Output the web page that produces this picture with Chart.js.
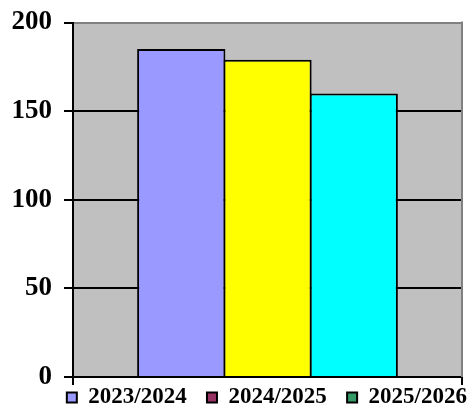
<!DOCTYPE html>
<html>
<head>
<meta charset="utf-8">
<script src="https://cdn.jsdelivr.net/npm/chart.js@4/dist/chart.umd.min.js"></script>
<style>
  html, body { margin: 0; padding: 0; background: #fff; }
  #wrap { width: 470px; height: 406px; }
</style>
</head>
<body>
<div id="wrap"><canvas id="chart" width="470" height="406"></canvas></div>
<script>
// Datos
const PERIODOS = ['2023/2024', '2024/2025', '2025/2026'];
const VALORES = [185, 179, 160];
const TICKS_Y = [0, 50, 100, 150, 200];

// Colores: barras y cuadros de la leyenda (no coinciden en el original)
const COLOR_BARRAS = ['#9999FF', '#FFFF00', '#00FFFF'];
const COLOR_LEYENDA = ['#9999FF', '#993366', '#339966'];
const FUENTE = '"Liberation Serif", "Times New Roman", serif';

// Fondo gris del área de trazado + borde gris derecho
const fondoPlot = {
    id: 'fondoPlot',
    beforeDraw(chart) {
        const { ctx, chartArea: a } = chart;
        ctx.save();
        ctx.fillStyle = '#fff';
        ctx.fillRect(0, 0, chart.width, chart.height);
        ctx.fillStyle = '#C0C0C0';
        ctx.fillRect(a.left, a.top, a.right - a.left, a.bottom - a.top);
        ctx.restore();
    },
    afterDatasetsDraw(chart) {
        const { ctx, chartArea: a } = chart;
        ctx.save();
        ctx.strokeStyle = '#808080';
        ctx.lineWidth = 2;
        ctx.beginPath();
        ctx.moveTo(a.right, a.top - 1);
        ctx.lineTo(a.right, a.bottom);
        ctx.stroke();
        ctx.restore();
    }
};

// barPercentage un poco mayor que 1: las barras se solapan y comparten el borde
const datasets = PERIODOS.map((p, i) => ({
    label: p,
    data: [VALORES[i]],
    backgroundColor: COLOR_BARRAS[i],
    borderColor: '#000',
    borderWidth: 2,
    barPercentage: 1.024,
    categoryPercentage: 0.665
}));

new Chart(document.getElementById('chart'), {
    type: 'bar',
    data: { labels: [''], datasets },
    plugins: [fondoPlot],
    options: {
        responsive: false,
        animation: false,
        layout: { padding: { top: 10, right: 0, left: 0, bottom: 0 } },
        plugins: {
            tooltip: { enabled: false },
            legend: {
                position: 'bottom',
                align: 'end',
                maxHeight: 23,
                labels: {
                    padding: 3,
                    boxWidth: 10,
                    boxHeight: 10,
                    color: '#000',
                    font: { family: FUENTE, size: 23, weight: 'bold' },
                    // espacios finales para separar los elementos de la leyenda
                    generateLabels: () => PERIODOS.map((p, i) => ({
                        text: i < PERIODOS.length - 1 ? p + '   ' : p,
                        fillStyle: COLOR_LEYENDA[i],
                        strokeStyle: '#000',
                        lineWidth: 2,
                        fontColor: '#000',
                        datasetIndex: i
                    }))
                }
            }
        },
        scales: {
            x: {
                grid: { offset: true, drawOnChartArea: false, color: '#000', lineWidth: 2, tickLength: 8 },
                border: { color: '#000', width: 2 },
                ticks: { display: false },
                afterFit: (s) => { s.height = 6; }
            },
            y: {
                min: 0,
                max: 200,
                afterBuildTicks: (s) => { s.ticks = TICKS_Y.map((v) => ({ value: v })); },
                ticks: {
                    padding: 12,
                    color: '#000',
                    font: { family: FUENTE, size: 27, weight: 'bold', lineHeight: 0.78 }
                },
                grid: {
                    color: (c) => (c.tick && c.tick.value === 200 ? '#808080' : '#000'),
                    tickColor: '#000',
                    lineWidth: 2,
                    tickLength: 9
                },
                border: { color: '#000', width: 2 },
                afterFit: (s) => { s.width = 73; }
            },
            // eje vacío a la derecha: deja 8 px entre el área gris y el borde
            margen: {
                position: 'right',
                grid: { display: false },
                border: { display: false },
                ticks: { display: false },
                afterFit: (s) => { s.width = 8; }
            }
        }
    }
});
</script>
</body>
</html>
